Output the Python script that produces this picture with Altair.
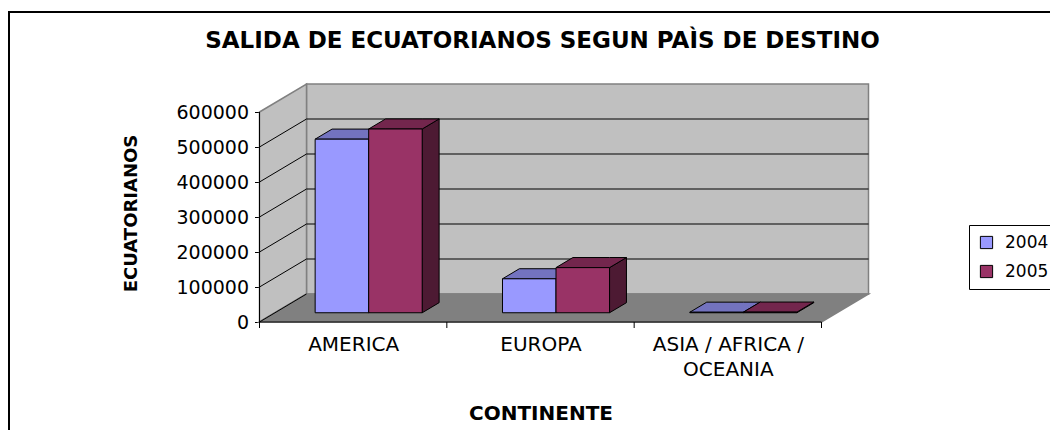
import json
import altair as alt
import pandas as pd

# ---------------- data ----------------
categories = ["AMERICA", "EUROPA", "ASIA / AFRICA / OCEANIA"]
category_lines = [["AMERICA"], ["EUROPA"], ["ASIA / AFRICA /", "OCEANIA"]]
series = ["2004", "2005"]
values_2004 = [496000, 97000, 1500]
values_2005 = [525000, 129000, 1800]
y_ticks = [0, 100000, 200000, 300000, 400000, 500000, 600000]

front_colors = ["#9999FF", "#993366"]
top_colors = ["#7373BF", "#73264D"]
side_colors = ["#4D4D80", "#4D1A33"]

values = [values_2004, values_2005]

# ---------------- geometry (pixel-based x scale, value-based y scale) ----------------
W = 609.0
H = 238.0
DX = 47.0            # depth offset in x (pixels)
DEPTH_PX = 28.0      # depth offset in y (pixels)
N = len(categories)
CAT_W = (W - DX) / N
FRONT_W = CAT_W * N
YTOP = y_ticks[-1]
PX_PER_UNIT = (H - DEPTH_PX) / YTOP
DV = DEPTH_PX / PX_PER_UNIT
YMAX = YTOP + DV
BW = CAT_W / 3.5
F1, F2 = 0.33, 0.69
DDX = (F2 - F1) * DX
DDV = (F2 - F1) * DV

FONT = "DejaVu Sans"

XS = alt.Scale(domain=[0, W], nice=False, zero=False)
YS = alt.Scale(domain=[0, YMAX], nice=False, zero=False)

label_expr = "datum.value < %f ? %s : datum.value < %f ? %s : %s" % (
    CAT_W, json.dumps(category_lines[0]), 2 * CAT_W,
    json.dumps(category_lines[1]), json.dumps(category_lines[2]))

XAXIS = alt.Axis(
    values=[i * CAT_W + CAT_W / 2 for i in range(N)],
    labelExpr=label_expr, ticks=False, tickSize=0, domain=False, grid=False,
    labelFont=FONT, labelFontSize=20, labelColor="black", labelPadding=12,
    labelLineHeight=25, labelAngle=0, labelOverlap=False, labelFlush=False,
    title="CONTINENTE", titleFont=FONT, titleFontSize=20, titleFontWeight="bold",
    titleColor="black", titleX=FRONT_W / 2, titleY=91, titleBaseline="middle",
    titleAlign="center",
)
YAXIS = alt.Axis(
    values=y_ticks, format="d", domain=False, grid=False,
    labelFont=FONT, labelFontSize=19, labelColor="black", labelPadding=6,
    tickColor="black", tickSize=5, tickWidth=1,
    title="ECUATORIANOS", titleFont=FONT, titleFontSize=18, titleFontWeight="bold",
    titleColor="black", titleX=-128.5, titleY=129, titleAngle=270,
    titleBaseline="middle", titleAlign="center",
)


def X(f):
    return alt.X(f, type="quantitative", scale=XS, axis=XAXIS)


def Y(f):
    return alt.Y(f, type="quantitative", scale=YS, axis=YAXIS, stack=None)


layers = []

# chart frame
frame = alt.Chart(pd.DataFrame({"a": [0]})).mark_rect(
    fillOpacity=0, stroke="black", strokeWidth=2
).encode(x=alt.value(-250.5), x2=alt.value(900), y=alt.value(-72), y2=alt.value(420))
layers.append(frame)

# back wall
back = pd.DataFrame({"x": [DX], "x2": [W], "y": [DV], "y2": [YMAX]})
layers.append(alt.Chart(back).mark_rect(fill="#C0C0C0", stroke="#808080", strokeWidth=1.5)
              .encode(x=X("x"), x2="x2", y=Y("y"), y2="y2"))

# side wall
side_wall = pd.DataFrame({"x": [0, DX], "lo": [0, DV], "hi": [YTOP, YTOP + DV]})
layers.append(alt.Chart(side_wall).mark_area(fill="#C0C0C0", stroke="#808080", strokeWidth=1.5)
              .encode(x=X("x"), y=Y("hi"), y2="lo"))

# floor
floor = pd.DataFrame({"x": [0, DX, FRONT_W, W], "lo": [0, 0, 0, DV], "hi": [0, DV, DV, DV]})
layers.append(alt.Chart(floor).mark_area(fill="#808080", stroke="#808080", strokeWidth=1.5)
              .encode(x=X("x"), y=Y("hi"), y2="lo"))

# gridlines
grid_back = pd.DataFrame({"x": [DX] * 5, "x2": [W] * 5,
                          "y": [t + DV for t in y_ticks[1:-1]]})
layers.append(alt.Chart(grid_back).mark_rule(color="black", strokeWidth=1)
              .encode(x=X("x"), x2="x2", y=Y("y")))
grid_side = pd.DataFrame({"x": [0] * 6, "x2": [DX] * 6,
                          "y": y_ticks[:-1], "y2": [t + DV for t in y_ticks[:-1]]})
layers.append(alt.Chart(grid_side).mark_rule(color="black", strokeWidth=1)
              .encode(x=X("x"), x2="x2", y=Y("y"), y2="y2"))

# front axis lines
layers.append(alt.Chart(pd.DataFrame({"x": [0], "y": [0], "y2": [YTOP]}))
              .mark_rule(color="black", strokeWidth=1)
              .encode(x=X("x"), y=Y("y"), y2="y2"))
layers.append(alt.Chart(pd.DataFrame({"x": [0], "x2": [FRONT_W], "y": [0]}))
              .mark_rule(color="black", strokeWidth=1)
              .encode(x=X("x"), x2="x2", y=Y("y")))
layers.append(alt.Chart(pd.DataFrame({"x": [i * CAT_W for i in range(N + 1)]}))
              .mark_rule(color="black", strokeWidth=1)
              .encode(x=X("x"), y=alt.value(H), y2=alt.value(H + 6)))

# bars
for j, s in enumerate(series):
    tops, sides, fronts = [], [], []
    for i, c in enumerate(categories):
        v = values[j][i]
        x0 = i * CAT_W + 0.75 * BW + j * BW + F1 * DX
        x1 = x0 + BW
        B = F1 * DV
        T = v + F1 * DV
        bar = f"{s}-{i}"
        tops += [
            {"bar": bar, "x": x0, "lo": T, "hi": T},
            {"bar": bar, "x": x0 + DDX, "lo": T, "hi": T + DDV},
            {"bar": bar, "x": x1, "lo": T, "hi": T + DDV},
            {"bar": bar, "x": x1 + DDX, "lo": T + DDV, "hi": T + DDV},
        ]
        sides += [
            {"bar": bar, "x": x1, "lo": B, "hi": T},
            {"bar": bar, "x": x1 + DDX, "lo": B + DDV, "hi": T + DDV},
        ]
        fronts.append({"series": s, "cat": c, "x": x0, "x2": x1, "y": B, "y2": T})
    layers.append(alt.Chart(pd.DataFrame(sides)).mark_area(stroke="black", strokeWidth=1)
                  .encode(x=X("x"), y=Y("hi"), y2="lo", detail="bar:N",
                          color=alt.value(side_colors[j])))
    layers.append(alt.Chart(pd.DataFrame(tops)).mark_area(stroke="black", strokeWidth=1)
                  .encode(x=X("x"), y=Y("hi"), y2="lo", detail="bar:N",
                          color=alt.value(top_colors[j])))
    layers.append(alt.Chart(pd.DataFrame(fronts)).mark_rect(stroke="black", strokeWidth=1)
                  .encode(x=X("x"), x2="x2", y=Y("y"), y2="y2",
                          color=alt.Color("series:N",
                                          scale=alt.Scale(domain=series, range=front_colors),
                                          legend=alt.Legend(
                                              orient="none", legendX=709.5, legendY=141,
                                              title=None, strokeColor="black",
                                              fillColor="white", padding=9,
                                              symbolType="square", symbolSize=150,
                                              symbolStrokeColor="black",
                                              symbolStrokeWidth=1, symbolOpacity=1,
                                              labelFont=FONT, labelFontSize=17,
                                              labelColor="black", labelOffset=10,
                                              rowPadding=11))))

chart = alt.layer(*layers).properties(
    width=W, height=H,
    title=alt.TitleParams(
        "SALIDA DE ECUATORIANOS SEGUN PAÌS DE DESTINO",
        font=FONT, fontSize=23, fontWeight="bold", color="black",
        anchor="middle", frame="group", dx=-21.5, offset=-60, baseline="alphabetic"),
    autosize=alt.AutoSizeParams(type="none"),
    padding={"left": 251.5, "top": 76, "right": 181.5, "bottom": 108},
    background="white",
).configure_view(strokeWidth=0)

chart.save("out.html", embed_options={"renderer": "svg", "actions": False})
